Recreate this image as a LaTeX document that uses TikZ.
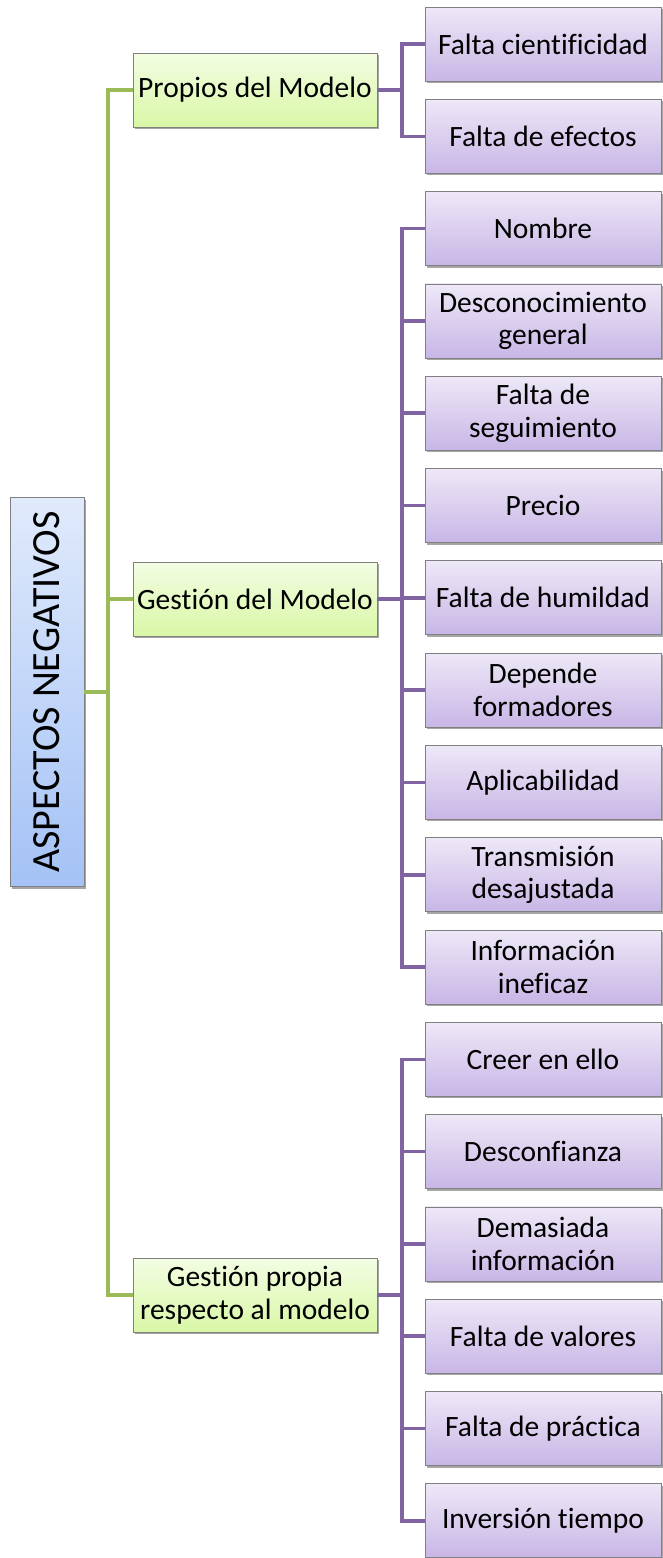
\documentclass[tikz,border=0pt]{standalone}
\usepackage{fontspec}
\setmainfont{Carlito}[Ligatures=NoCommon]
\usetikzlibrary{shadows}
\definecolor{grn}{HTML}{9BBB59}
\definecolor{prp}{HTML}{8064A2}
\definecolor{rootTop}{HTML}{E0EAFB}
\definecolor{rootBot}{HTML}{A4C2F6}
\definecolor{midTop}{HTML}{F3FDE3}
\definecolor{midBot}{HTML}{D9F7A6}
\definecolor{leafTop}{HTML}{EEE8F7}
\definecolor{leafBot}{HTML}{C8B6E6}
\begin{document}
\begin{tikzpicture}[x=1pt,y=-1pt,
  box/.style={draw=black!50, line width=0.8pt, inner sep=0pt, align=center,
    drop shadow={shadow xshift=2pt,shadow yshift=-2pt,opacity=0.35,fill=black}},
  rootbox/.style={box, minimum width=74pt, minimum height=389pt,
    top color=rootTop, bottom color=rootBot, font=\fontsize{40}{44}\selectfont},
  midbox/.style={box, minimum width=244pt, minimum height=74pt,
    top color=midTop, bottom color=midBot, font=\fontsize{29.5}{32.5}\selectfont},
  leaf/.style={box, minimum width=236pt, minimum height=74pt,
    top color=leafTop, bottom color=leafBot, font=\fontsize{29.5}{32.5}\selectfont},
  gline/.style={grn, line width=3.6pt},
  pline/.style={prp, line width=3.6pt}]
\useasboundingbox (0,0) rectangle (662,1558);

\node[rootbox] (root) at (47,692) {\rotatebox{90}{ASPECTOS NEGATIVOS}};

\node[midbox] (p1) at (255,90) {Propios del Modelo};
\node[midbox] (p2) at (255,599) {Gestión del Modelo};
\node[midbox] (p3) at (255,1295) {Gestión propia\\respecto al modelo};

\node[leaf] (l1) at (543,44) {Falta cientificidad};
\node[leaf] (l2) at (543,136.3) {Falta de efectos};
\node[leaf] (l3) at (543,228.6) {Nombre};
\node[leaf] (l4) at (543,320.9) {Desconocimiento\\general};
\node[leaf] (l5) at (543,413.2) {Falta de\\seguimiento};
\node[leaf] (l6) at (543,505.5) {Precio};
\node[leaf] (l7) at (543,597.8) {Falta de humildad};
\node[leaf] (l8) at (543,690.1) {Depende\\formadores};
\node[leaf] (l9) at (543,782.4) {Aplicabilidad};
\node[leaf] (l10) at (543,874.7) {Transmisión\\desajustada};
\node[leaf] (l11) at (543,967) {Información\\ineficaz};
\node[leaf] (l12) at (543,1059.3) {Creer en ello};
\node[leaf] (l13) at (543,1151.6) {Desconfianza};
\node[leaf] (l14) at (543,1243.9) {Demasiada\\información};
\node[leaf] (l15) at (543,1336.2) {Falta de valores};
\node[leaf] (l16) at (543,1428.5) {Falta de práctica};
\node[leaf] (l17) at (543,1520.8) {Inversión tiempo};

% green connectors
\coordinate (gt) at (108,692);
\draw[gline] (root.east) -- (gt);
\draw[gline] (p1.west) -| (gt) |- (p3.west);
\draw[gline] (p2.west) -- (p2.west -| gt);

% purple connectors
\coordinate (c1) at (402,90);
\coordinate (c2) at (402,599);
\coordinate (c3) at (402,1295);
\draw[pline] (p1.east) -- (c1);
\draw[pline] (l1.west) -| (c1) |- (l2.west);
\draw[pline] (p2.east) -- (c2);
\draw[pline] (l3.west) -| (c2) |- (l11.west);
\foreach \k in {4,...,10} \draw[pline] (l\k.west) -- (l\k.west -| c2);
\draw[pline] (p3.east) -- (c3);
\draw[pline] (l12.west) -| (c3) |- (l17.west);
\foreach \k in {13,...,16} \draw[pline] (l\k.west) -- (l\k.west -| c3);
\end{tikzpicture}
\end{document}
